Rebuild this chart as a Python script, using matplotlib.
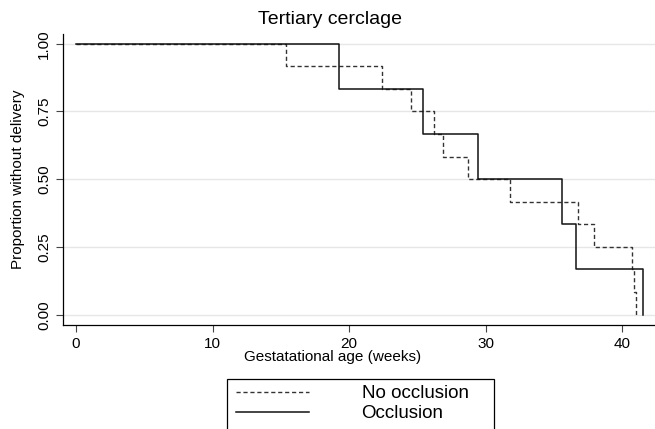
import matplotlib
matplotlib.use("Agg")
import matplotlib.pyplot as plt
from matplotlib.patches import Rectangle

plt.rcParams["font.family"] = ["Liberation Sans", "DejaVu Sans"]

# Kaplan-Meier steps
occl_weeks = [0, 19.25, 25.4, 29.45, 35.6, 36.6, 41.5]
occl_surv = [1.0, 0.833, 0.667, 0.5, 0.333, 0.167, 0.0]

noocc_weeks = [0, 15.35, 22.4, 24.55, 26.25, 26.85, 28.7, 31.8, 36.75, 37.9, 40.7, 40.85, 41.0]
noocc_surv = [1.0, 0.917, 0.833, 0.75, 0.667, 0.583, 0.5, 0.417, 0.333, 0.25, 0.167, 0.083, 0.0]

x_ticks = [0, 10, 20, 30, 40]
y_ticks = [0, 0.25, 0.5, 0.75, 1.0]
y_labels = ["0.00", "0.25", "0.50", "0.75", "1.00"]

W, H = 655, 429
fig = plt.figure(figsize=(W / 100, H / 100), dpi=100)
ax = fig.add_axes([63 / W, 1 - 325 / H, 592 / W, 291 / H])

l1, = ax.step(noocc_weeks, noocc_surv, where="post", color="#333333",
              lw=1.0, linestyle=(0, (3, 2)))
l2, = ax.step(occl_weeks, occl_surv, where="post", color="#111111", lw=1.1)

ax.set_xlim(-0.95, 42.4)
ax.set_ylim(-0.038, 1.036)
ax.set_xticks(x_ticks)
ax.set_yticks(y_ticks)
ax.set_yticklabels(y_labels, rotation=90, va="center")
ax.tick_params(labelsize=11, length=5, width=0.8, color="#444444")
for y in y_ticks:
    ax.axhline(y, color="#e6e6e6", lw=1.0, zorder=0)

for s in ["top", "right"]:
    ax.spines[s].set_visible(False)
for s in ["left", "bottom"]:
    ax.spines[s].set_linewidth(0.9)

ax.set_xlabel("Gestatational age (weeks)", fontsize=11)
ax.xaxis.set_label_coords(0.456, -0.086)
ax.set_ylabel("Proportion without delivery", fontsize=11)
ax.yaxis.set_label_coords(-0.064, 0.5)
fig.text(330 / W, 1 - 24 / H, "Tertiary cerclage", fontsize=14,
         ha="center", va="baseline")

fig.legend([l1, l2], ["No occlusion", "Occlusion"],
           loc="upper left", bbox_to_anchor=(236 / W, 1 - 385 / H),
           fontsize=13.5, handlelength=3.9, handletextpad=2.8,
           borderpad=0, labelspacing=0.15, borderaxespad=0, frameon=False)
fig.patches.append(Rectangle((227 / W, -0.05), 267 / W, 1 - 379 / H + 0.05,
                             transform=fig.transFigure, fill=False,
                             edgecolor="black", lw=0.9))

fig.savefig("out.png", dpi=100)
